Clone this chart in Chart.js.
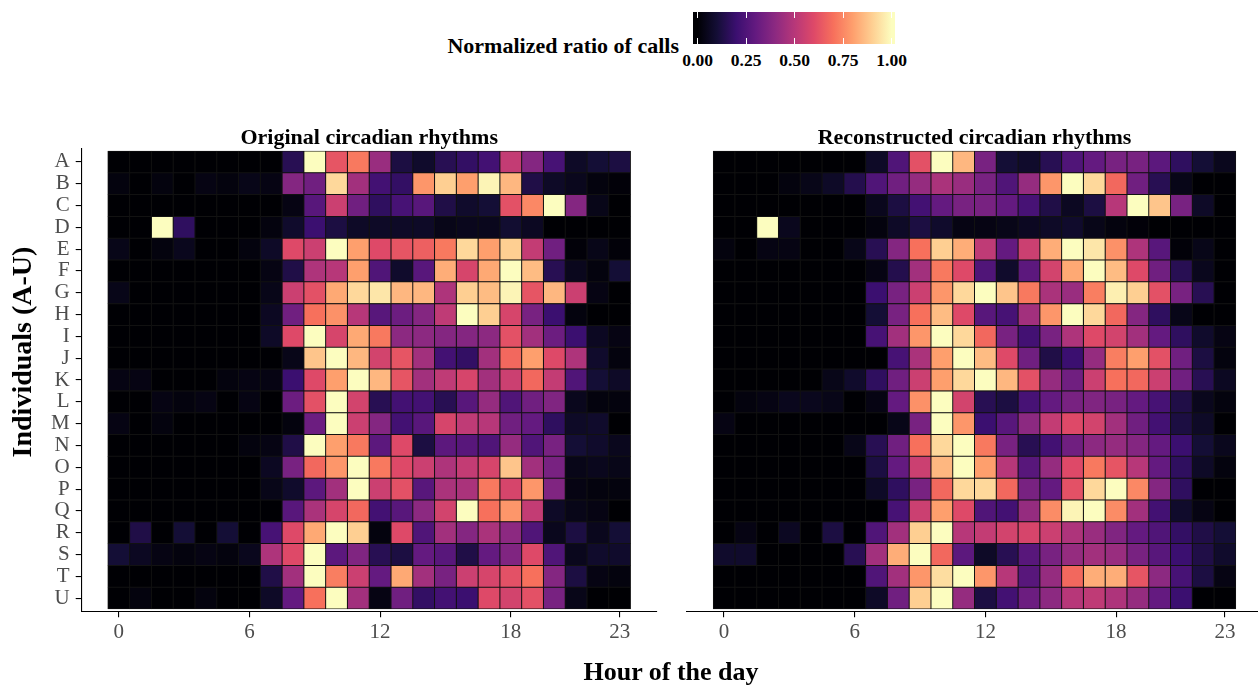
<!DOCTYPE html>
<html><head><meta charset="utf-8">
<script src="https://cdn.jsdelivr.net/npm/chart.js@4.4.1/dist/chart.umd.min.js"></script>
<style>
html,body{margin:0;padding:0;background:#fff;overflow:hidden;width:1258px;height:686px;position:relative;}
canvas{position:absolute;display:block;}
.txt{position:absolute;font-family:"Liberation Serif","Times New Roman",serif;font-weight:bold;color:#000;white-space:nowrap;}
#cbar{position:absolute;left:693px;top:12px;width:202px;height:32px;}
.tk{position:absolute;width:1px;height:6px;background:#fff;}
#ytitle{left:-128px;top:338px;width:300px;height:28px;text-align:center;font-size:28px;line-height:28px;transform:rotate(-90deg);transform-origin:150px 14px;}
</style></head><body>
<canvas id="cL" width="680" height="586" style="left:0;top:100px;width:680px;height:586px"></canvas>
<canvas id="cR" width="600" height="586" style="left:680px;top:100px;width:600px;height:586px"></canvas>
<div class="txt" id="legTitle" style="left:379px;top:35px;width:300px;text-align:right;font-size:22px;line-height:22px">Normalized ratio of calls</div>
<div id="cbar"></div>
<div id="cbarLabels"></div>
<div class="txt" id="ytitle">Individuals (A-U)</div>
<div class="txt" style="left:471px;top:659px;width:400px;text-align:center;font-size:26px;line-height:26px">Hour of the day</div>
<script>
// ---------- categories & ticks ----------
const individuals = ['A','B','C','D','E','F','G','H','I','J','K','L','M','N','O','P','Q','R','S','T','U'];
const hours = [0,1,2,3,4,5,6,7,8,9,10,11,12,13,14,15,16,17,18,19,20,21,22,23];
const hourTicks = [0, 6, 12, 18, 23];
const legendTicks = [0, 0.25, 0.5, 0.75, 1];
const legendTickLabels = ['0.00','0.25','0.50','0.75','1.00'];

// ---------- Original circadian rhythms (normalized ratio of calls per hour) ----------
const orig_A = [0,0,0,0,0,0,0,0,0.15,1,0.63,0.72,0.43,0.12,0.08,0.15,0.18,0.22,0.53,0.38,0.23,0.07,0.1,0.12];
const orig_B = [0.02,0,0.02,0,0.03,0.02,0.04,0.03,0.38,0.33,0.92,0.45,0.22,0.18,0.78,0.9,0.8,0.98,0.85,0.13,0.07,0.05,0.02,0.01];
const orig_C = [0,0,0,0,0,0,0,0,0.03,0.27,0.55,0.33,0.17,0.23,0.27,0.13,0.08,0.1,0.62,0.75,1,0.38,0.04,0];
const orig_D = [0,0,1,0.17,0,0,0,0.02,0.08,0.2,0.12,0.07,0.07,0.07,0.07,0.04,0.05,0.05,0.09,0.06,0,0,0,0];
const orig_E = [0.04,0,0.02,0.05,0,0,0.02,0.07,0.6,0.55,1,0.8,0.6,0.63,0.66,0.72,0.92,0.8,0.9,0.53,0.33,0.01,0.04,0.01];
const orig_F = [0,0,0,0,0,0,0,0.03,0.13,0.48,0.5,0.8,0.25,0.08,0.27,0.83,0.58,0.82,1,0.86,0.15,0.05,0.02,0.1];
const orig_G = [0.04,0,0,0,0,0,0,0.04,0.55,0.62,0.82,0.92,0.95,0.85,0.85,0.48,0.9,0.86,0.98,0.63,0.85,0.55,0.03,0];
const orig_H = [0,0,0,0,0,0,0,0.06,0.33,0.7,0.77,0.5,0.27,0.32,0.38,0.52,1,0.9,0.58,0.35,0.2,0.02,0,0];
const orig_I = [0,0,0,0,0,0,0,0.07,0.6,1,0.58,0.82,0.72,0.4,0.4,0.38,0.38,0.4,0.62,0.45,0.32,0.2,0.06,0.03];
const orig_J = [0,0,0,0,0,0,0,0,0.04,0.88,1,0.85,0.57,0.63,0.45,0.22,0.18,0.45,0.68,0.8,0.6,0.48,0.08,0.02];
const orig_K = [0.03,0.03,0,0,0,0.02,0.03,0.03,0.2,0.6,0.8,1,0.85,0.63,0.45,0.52,0.58,0.45,0.55,0.68,0.53,0.25,0.1,0.07];
const orig_L = [0,0,0.03,0.02,0.03,0,0.03,0,0.32,0.62,1,0.57,0.15,0.22,0.22,0.15,0.27,0.42,0.25,0.33,0.37,0.05,0.02,0.02];
const orig_M = [0.03,0,0.02,0,0,0,0,0,0.02,0.32,1,0.55,0.38,0.22,0.27,0.58,0.52,0.5,0.33,0.3,0.17,0.07,0.08,0];
const orig_N = [0,0,0,0,0,0,0.02,0.03,0.13,1,0.8,0.72,0.28,0.6,0.12,0.28,0.27,0.25,0.42,0.25,0.35,0.1,0.08,0.05];
const orig_O = [0,0,0,0,0,0,0,0.06,0.35,0.68,0.78,1,0.72,0.6,0.55,0.48,0.53,0.58,0.88,0.45,0.35,0.04,0.05,0.04];
const orig_P = [0,0,0,0,0,0,0,0.04,0.08,0.28,0.45,1,0.55,0.62,0.27,0.47,0.47,0.72,0.58,0.78,0.37,0.03,0.02,0.02];
const orig_Q = [0,0,0,0,0,0,0,0,0.27,0.47,0.58,0.68,0.22,0.27,0.4,0.57,1,0.7,0.78,0.53,0.07,0.04,0.03,0];
const orig_R = [0,0.13,0,0.1,0,0.1,0,0.23,0.6,0.82,1,0.9,0.02,0.6,0.25,0.45,0.38,0.47,0.4,0.25,0.05,0.12,0.05,0.1];
const orig_S = [0.1,0.06,0.03,0.02,0.03,0.02,0.05,0.48,0.6,1,0.28,0.37,0.15,0.12,0.3,0.27,0.13,0.3,0.37,0.6,0.25,0.05,0.08,0.08];
const orig_T = [0,0,0,0,0,0,0,0.13,0.45,1,0.73,0.55,0.3,0.82,0.45,0.35,0.55,0.58,0.62,0.7,0.38,0.12,0.03,0.02];
const orig_U = [0,0.02,0,0,0.02,0,0,0.07,0.3,0.7,1,0.45,0.03,0.33,0.18,0.22,0.2,0.6,0.57,0.62,0.35,0.04,0,0];

// ---------- Reconstructed circadian rhythms ----------
const recon_A = [0,0,0,0,0,0,0,0.07,0.25,0.62,1,0.85,0.35,0.1,0.08,0.15,0.25,0.3,0.35,0.35,0.28,0.17,0.1,0.05];
const recon_B = [0,0,0,0.02,0.04,0.07,0.14,0.25,0.33,0.42,0.47,0.43,0.35,0.25,0.42,0.78,1,0.92,0.68,0.33,0.15,0.04,0,0];
const recon_C = [0,0,0,0,0,0,0,0.05,0.12,0.22,0.3,0.35,0.35,0.3,0.23,0.13,0.06,0.12,0.5,1,0.88,0.35,0.07,0];
const recon_D = [0,0,1,0.05,0,0,0,0.02,0.07,0.12,0.08,0.03,0.03,0.04,0.06,0.07,0.08,0.04,0.02,0.01,0,0,0,0];
const recon_E = [0.02,0,0.03,0.03,0,0,0.04,0.15,0.38,0.7,0.9,0.83,0.52,0.3,0.55,0.83,1,0.95,0.77,0.48,0.27,0.01,0.04,0];
const recon_F = [0,0,0,0,0,0,0,0.03,0.14,0.45,0.72,0.6,0.25,0.08,0.28,0.57,0.82,1,0.86,0.6,0.33,0.15,0.05,0];
const recon_G = [0,0,0,0,0,0,0,0.2,0.35,0.55,0.78,0.92,1,0.88,0.72,0.47,0.43,0.73,0.97,0.9,0.62,0.35,0.15,0];
const recon_H = [0,0,0,0,0,0,0,0.1,0.35,0.7,0.86,0.6,0.27,0.23,0.45,0.78,1,0.92,0.68,0.38,0.17,0.04,0,0];
const recon_I = [0,0,0,0,0,0,0,0.23,0.45,0.78,1,0.92,0.68,0.35,0.22,0.35,0.48,0.6,0.57,0.45,0.3,0.17,0.08,0.03];
const recon_J = [0,0,0,0,0,0,0,0,0.23,0.47,0.8,1,0.86,0.6,0.33,0.13,0.2,0.42,0.73,0.8,0.62,0.33,0.12,0.02];
const recon_K = [0,0,0,0,0,0.04,0.08,0.17,0.33,0.55,0.8,0.92,1,0.85,0.62,0.42,0.33,0.55,0.7,0.68,0.55,0.33,0.15,0.06];
const recon_L = [0,0.02,0.03,0.05,0.05,0.04,0,0.03,0.3,0.77,1,0.57,0.15,0.12,0.23,0.3,0.35,0.37,0.35,0.3,0.23,0.13,0.05,0.02];
const recon_M = [0.03,0,0,0,0,0,0,0,0.04,0.35,1,0.78,0.2,0.27,0.4,0.53,0.6,0.57,0.45,0.33,0.22,0.12,0.07,0];
const recon_N = [0,0,0,0,0,0,0.04,0.15,0.33,0.7,0.92,1,0.72,0.35,0.15,0.22,0.33,0.4,0.42,0.38,0.3,0.2,0.1,0.05];
const recon_O = [0,0,0,0,0,0,0,0.12,0.3,0.55,0.85,1,0.8,0.5,0.27,0.42,0.6,0.72,0.63,0.5,0.3,0.17,0.07,0.02];
const recon_P = [0,0,0,0,0,0,0,0.07,0.17,0.35,0.68,0.92,0.92,0.68,0.35,0.3,0.62,0.92,1,0.75,0.38,0.17,0,0];
const recon_Q = [0,0,0,0,0,0,0,0,0.23,0.55,0.8,0.6,0.25,0.22,0.42,0.76,0.98,1,0.76,0.45,0.22,0.08,0.03,0];
const recon_R = [0,0.03,0,0.06,0,0.12,0,0.25,0.45,0.9,1,0.5,0.53,0.57,0.58,0.55,0.48,0.43,0.37,0.3,0.25,0.18,0.13,0.1];
const recon_S = [0.08,0.08,0,0,0,0,0.15,0.45,0.83,1,0.68,0.28,0.07,0.15,0.27,0.35,0.42,0.45,0.43,0.35,0.27,0.2,0.13,0.08];
const recon_T = [0,0,0,0,0,0,0,0.25,0.45,0.78,0.93,1,0.78,0.5,0.27,0.42,0.68,0.83,0.83,0.63,0.4,0.23,0.12,0.03];
const recon_U = [0,0,0,0,0,0,0,0.07,0.33,0.9,1,0.42,0.12,0.22,0.32,0.4,0.5,0.52,0.48,0.42,0.3,0.2,0,0];

const originalRows = {A:orig_A,B:orig_B,C:orig_C,D:orig_D,E:orig_E,F:orig_F,G:orig_G,H:orig_H,I:orig_I,J:orig_J,K:orig_K,L:orig_L,M:orig_M,N:orig_N,O:orig_O,P:orig_P,Q:orig_Q,R:orig_R,S:orig_S,T:orig_T,U:orig_U};
const reconRows = {A:recon_A,B:recon_B,C:recon_C,D:recon_D,E:recon_E,F:recon_F,G:recon_G,H:recon_H,I:recon_I,J:recon_J,K:recon_K,L:recon_L,M:recon_M,N:recon_N,O:recon_O,P:recon_P,Q:recon_Q,R:recon_R,S:recon_S,T:recon_T,U:recon_U};

// ---------- magma colour scale ----------
const MAGMA = ['#000004','#140e36','#3b0f70','#641a80','#8c2981','#b73779','#de4968','#f7705c','#fe9f6d','#fecf92','#fcfdbf'];
function hexRgb(h){ return [parseInt(h.slice(1,3),16), parseInt(h.slice(3,5),16), parseInt(h.slice(5,7),16)]; }
function magma(v){
  v = Math.max(0, Math.min(1, v));
  const p = v * 10, i = Math.min(9, Math.floor(p)), t = p - i;
  const a = hexRgb(MAGMA[i]), b = hexRgb(MAGMA[i+1]);
  return 'rgb(' + a.map((c, k) => Math.round(c + (b[k]-c)*t)).join(',') + ')';
}

const FONT = '"Liberation Serif","Times New Roman",serif';
Chart.defaults.font.family = FONT;

// dark backing under the tile grid so anti-aliased seams between tiles stay dark (like the tile outlines)
const tileBacking = {
  id: 'tileBacking',
  beforeDatasetsDraw(chart){
    const {ctx, scales: {x, y}} = chart;
    const x0 = x.getPixelForValue(hours[0] - 0.5), x1 = x.getPixelForValue(hours[hours.length - 1] + 0.5);
    const y0 = y.getPixelForValue(-0.5), y1 = y.getPixelForValue(individuals.length - 0.5);
    ctx.save();
    ctx.fillStyle = '#121212';
    ctx.fillRect(Math.min(x0, x1), Math.min(y0, y1), Math.abs(x1 - x0), Math.abs(y1 - y0));
    ctx.restore();
  }
};

function buildDatasets(rows){
  return hours.map(h => ({
    label: 'hour ' + h,
    data: individuals.map((id, i) => ({x: [h - 0.5, h + 0.5], y: i})),
    backgroundColor: individuals.map(id => magma(rows[id][h])),
    borderColor: '#121212',
    borderWidth: 0.8,
    borderSkipped: false,
    inflateAmount: 0.3,
    grouped: false,
    categoryPercentage: 1,
    barPercentage: 1
  }));
}

function makeChart(canvasId, rows, titleText, isLeft){
  const yScale = {
    type: 'linear', reverse: true, min: -0.6, max: 20.6, offset: false,
    afterBuildTicks: s => { s.ticks = individuals.map((id, i) => ({value: i})); },
    afterFit: s => { s.width = isLeft ? 81.7 : 0; },
    display: true,
    ticks: { display: isLeft, autoSkip: false, color: '#4d4d4d', font: {family: FONT, size: 21}, padding: 6,
             callback: v => individuals[v] },
    grid: { display: isLeft, offset: false, drawOnChartArea: false, drawTicks: true, tickLength: 6, color: '#000', lineWidth: 1.1 },
    border: { display: isLeft, color: '#000', width: 1.1 },
    title: { display: false }
  };
  const xScale = {
    type: 'linear', min: -1.7, max: 24.7, offset: false,
    afterBuildTicks: s => { s.ticks = hourTicks.map(v => ({value: v})); },
    afterFit: s => { s.height = 74.8; },
    ticks: { color: '#4d4d4d', font: {family: FONT, size: 21}, padding: 3, maxRotation: 0, autoSkip: false,
             callback: v => String(v) },
    grid: { offset: false, drawOnChartArea: false, drawTicks: true, tickLength: 6, color: '#000', lineWidth: 1.1 },
    border: { display: true, color: '#000', width: 1.1 }
  };
  return new Chart(document.getElementById(canvasId), {
    type: 'bar',
    data: { labels: individuals, datasets: buildDatasets(rows) },
    plugins: [tileBacking],
    options: {
      indexAxis: 'y',
      responsive: false,
      animation: false,
      devicePixelRatio: 1,
      layout: { padding: isLeft ? {left: 0, right: 23.3, top: 0, bottom: 0} : {left: 7, right: 18, top: 0, bottom: 0} },
      scales: { x: xScale, y: yScale },
      plugins: {
        legend: { display: false },
        tooltip: { enabled: false },
        title: { display: true, text: titleText, fullSize: false, color: '#000',
                 font: {family: FONT, size: 22, weight: 'bold', lineHeight: 0.8},
                 padding: {top: 29.9, bottom: 1.3} }
      }
    }
  });
}

makeChart('cL', originalRows, 'Original circadian rhythms', true);
makeChart('cR', reconRows, 'Reconstructed circadian rhythms', false);

// ---------- colour bar legend ----------
(function(){
  const bar = document.getElementById('cbar');
  const barLeft = 693, barW = 202, v0 = 697.6, v1 = 891.6;
  const stops = MAGMA.map((c, i) => {
    const px = v0 + (v1 - v0) * (i / 10) - barLeft;
    return c + ' ' + (px / barW * 100).toFixed(2) + '%';
  });
  bar.style.background = 'linear-gradient(to right,' + stops.join(',') + ')';
  const lab = document.getElementById('cbarLabels');
  legendTicks.forEach((t, i) => {
    const x = v0 + (v1 - v0) * t - barLeft;
    ['0px', '26px'].forEach(top => {
      const d = document.createElement('div');
      d.className = 'tk';
      d.style.left = (x - 0.5) + 'px';
      d.style.top = top;
      bar.appendChild(d);
    });
    const l = document.createElement('div');
    l.className = 'txt';
    l.style.cssText = 'left:' + (barLeft + x - 30) + 'px;top:52px;width:60px;text-align:center;font-size:17.5px;line-height:17.5px;';
    l.textContent = legendTickLabels[i];
    lab.appendChild(l);
  });
})();
</script>
</body></html>
